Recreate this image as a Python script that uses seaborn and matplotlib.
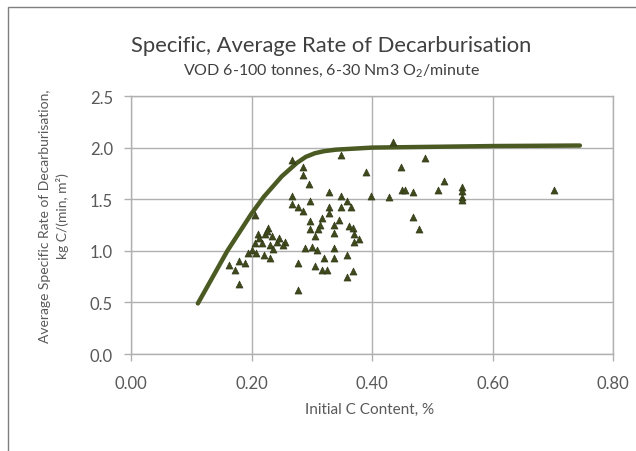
import matplotlib
matplotlib.use("Agg")
import matplotlib.pyplot as plt
import seaborn as sns
import pandas as pd
from matplotlib.patches import Rectangle

# ---- data ----
c_content = [
    0.228, 0.211, 0.222, 0.234, 0.242, 0.256, 0.206, 0.217, 0.231, 0.200,
    0.208, 0.220, 0.231, 0.194, 0.180, 0.189, 0.172, 0.180, 0.206, 0.278,
    0.278, 0.245, 0.213, 0.236, 0.162, 0.225,
    0.267, 0.286, 0.286, 0.295, 0.328, 0.267, 0.267, 0.278, 0.286, 0.297,
    0.328, 0.328, 0.297, 0.317, 0.314, 0.337, 0.297, 0.311, 0.306, 0.337,
    0.253, 0.289, 0.300, 0.309, 0.337, 0.320, 0.306, 0.317, 0.325,
    0.348, 0.390, 0.398, 0.429, 0.348, 0.359, 0.348, 0.365, 0.345, 0.362,
    0.368, 0.370, 0.379, 0.370, 0.359, 0.337, 0.368, 0.359,
    0.435, 0.488, 0.448, 0.519, 0.449, 0.454, 0.468, 0.509, 0.550, 0.550,
    0.550, 0.550, 0.468, 0.478, 0.702,
]
decarb_rate = [
    1.22, 1.16, 1.16, 1.14, 1.09, 1.09, 1.075, 1.075, 1.06, 1.01,
    0.98, 0.96, 0.93, 0.98, 0.90, 0.88, 0.81, 0.68, 1.35, 0.88,
    0.62, 1.12, 1.12, 1.02, 0.86, 1.19,
    1.876, 1.81, 1.73, 1.65, 1.565, 1.53, 1.45, 1.42, 1.385, 1.48,
    1.42, 1.37, 1.29, 1.32, 1.25, 1.25, 1.21, 1.21, 1.14, 1.17,
    1.06, 1.03, 1.04, 1.01, 1.03, 0.93, 0.85, 0.81, 0.81,
    1.925, 1.76, 1.53, 1.52, 1.53, 1.48, 1.42, 1.42, 1.30, 1.24,
    1.22, 1.16, 1.11, 1.09, 0.96, 0.93, 0.80, 0.75,
    2.05, 1.90, 1.81, 1.68, 1.585, 1.585, 1.57, 1.59, 1.62, 1.575,
    1.525, 1.49, 1.33, 1.21, 1.59,
]
curve_x = [0.111, 0.160, 0.200, 0.220, 0.250, 0.275, 0.290, 0.305, 0.320, 0.340,
           0.370, 0.400, 0.600, 0.745]
curve_y = [0.49, 1.00, 1.36, 1.52, 1.72, 1.85, 1.91, 1.945, 1.965, 1.98,
           1.99, 2.00, 2.015, 2.02]

x_ticks = [0.0, 0.2, 0.4, 0.6, 0.8]
y_ticks = [0.0, 0.5, 1.0, 1.5, 2.0, 2.5]

title = "Specific, Average Rate of Decarburisation"
subtitle = "VOD 6-100 tonnes, 6-30 Nm3 O$_2$/minute"
x_label = "Initial C Content, %"
y_label = "Average Specific Rate of Decarburisation,\nkg C/(min, m²)"

# ---- style ----
sns.set_theme(style="white")
FONT = "Lato"
plt.rcParams["font.family"] = [FONT, "DejaVu Sans"]
plt.rcParams["mathtext.fontset"] = "custom"
plt.rcParams["mathtext.rm"] = FONT
plt.rcParams["mathtext.it"] = FONT
plt.rcParams["mathtext.bf"] = FONT

olive = "#4a5a22"
marker_col = "#3f4a1c"
grid_col = "#b0b0b0"
text_col = "#595959"

W, H = 636, 452
fig = plt.figure(figsize=(W / 100, H / 100), dpi=100)
fig.patch.set_facecolor("white")
ax = fig.add_axes([131 / W, 1 - 355 / H, (613 - 131) / W, (355 - 97) / H])

scatter_df = pd.DataFrame({"c": c_content, "rate": decarb_rate})
curve_df = pd.DataFrame({"c": curve_x, "rate": curve_y})

sns.lineplot(data=curve_df, x="c", y="rate", ax=ax, color=olive, linewidth=3.2,
             sort=False, estimator=None, zorder=3)
sns.scatterplot(data=scatter_df, x="c", y="rate", ax=ax, marker="^", s=26,
                color=marker_col, edgecolor="#2a3212", linewidth=0.4, zorder=4)

ax.set_xlim(0, 0.8)
ax.set_ylim(0, 2.5)
ax.set_xticks(x_ticks)
ax.set_yticks(y_ticks)
ax.set_xticklabels([f"{v:.2f}" for v in x_ticks])
ax.set_yticklabels([f"{v:.1f}" for v in y_ticks])
ax.grid(True, color=grid_col, linewidth=1.0)
ax.set_axisbelow(True)
for s in ax.spines.values():
    s.set_color(grid_col)
    s.set_linewidth(1.0)
ax.tick_params(axis="both", colors=grid_col, labelcolor=text_col, labelsize=12,
               length=5, width=1.0, direction="out",
               bottom=True, left=True)
ax.tick_params(axis="x", pad=10)
ax.tick_params(axis="y", pad=8)
ax.set_xlabel("")
ax.set_ylabel("")

fig.text(370 / W, 1 - 410 / H, x_label, ha="center", va="center",
         fontsize=11, color=text_col)
fig.text(54 / W, 1 - 216 / H, y_label, ha="center", va="center",
         fontsize=10, color=text_col, rotation=90, linespacing=1.45)

fig.text(331 / W, 1 - 46 / H, title, ha="center", va="center",
         fontsize=15.8, color="#404040")
fig.text(331 / W, 1 - 71 / H, subtitle, ha="center", va="center",
         fontsize=11.5, color="#404040")

frame = Rectangle((8 / W, -0.1), 1.2, 1 - 8 / H + 0.1, transform=fig.transFigure,
                  fill=False, edgecolor="#7f7f7f", linewidth=1.0)
fig.patches.append(frame)

fig.savefig("out.png", dpi=100, facecolor="white")
